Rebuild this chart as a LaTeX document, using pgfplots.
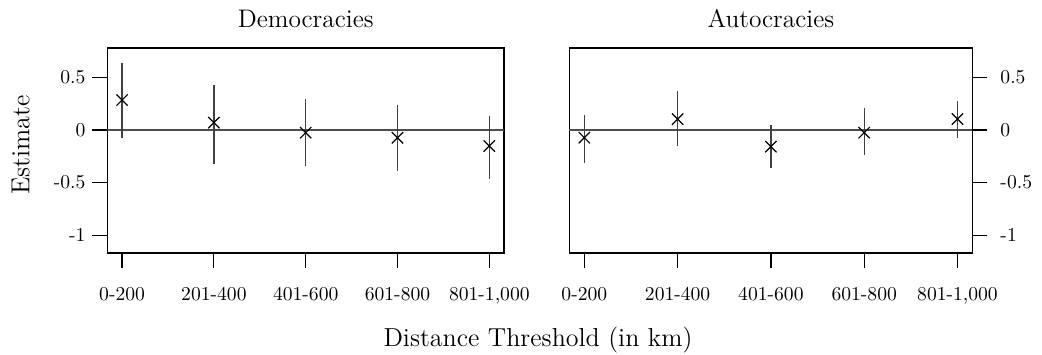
\documentclass[border=0pt]{standalone}
\usepackage{pgfplots}
\pgfplotsset{compat=1.18}
\usepackage{pgfplotstable}

\pgfplotstableread{
x y ep em
0 0.285 0.348 0.358
1 0.070 0.357 0.390
2 -0.025 0.315 0.320
3 -0.073 0.310 0.317
4 -0.152 0.285 0.316
}\demo
\pgfplotstableread{
x y ep em
0 -0.073 0.215 0.237
1 0.104 0.266 0.256
2 -0.158 0.205 0.206
3 -0.025 0.231 0.212
4 0.104 0.171 0.177
}\auto

\pgfplotsset{
  panel/.style={
    scale only axis,
    anchor=south west,
    height=102.5pt,
    xmin=-0.16, xmax=4.16,
    ymin=-1.168, ymax=0.779,
    xtick={0,1,2,3,4},
    xticklabels={0-200,201-400,401-600,601-800,{801-1,000}},
    ytick={-1,-0.5,0,0.5},
    yticklabels={-1,-0.5,0,0.5},
    tick align=outside,
    major tick length=7.5pt,
    xtick pos=bottom,
    tick style={black, line width=0.6pt},
    axis line style={line width=0.6pt},
    ticklabel style={font=\fontsize{9.8}{11}\selectfont},
    xticklabel style={anchor=base, yshift=-16.2pt},
    title style={at={(0.5,1)}, anchor=base, yshift=4.3pt, font=\fontsize{12.7}{15}\selectfont},
    clip=false,
  },
  ci/.style={black!80, mark=x, mark size=4pt, mark options={black, line width=0.6pt}, only marks,
    error bars/.cd, y dir=both, y explicit, error mark=none,
    error bar style={black!75, line width=0.7pt}},
}

\begin{document}
\begin{tikzpicture}
\useasboundingbox (0,0) rectangle (521pt,177pt);
\begin{axis}[panel, at={(53.7pt,50.5pt)}, width=198.3pt,
  ytick pos=left, title={Democracies}]
  \addplot[black!70, line width=0.65pt] coordinates {(-0.16,0) (4.16,0)};
  \addplot[ci] table[x=x, y=y, y error plus=ep, y error minus=em] {\demo};
\end{axis}
\begin{axis}[panel, at={(284.7pt,50.5pt)}, width=201.5pt,
  ytick pos=right, yticklabel pos=right,
  yticklabel style={anchor=west, xshift=3pt},
  title={Autocracies}]
  \addplot[black!70, line width=0.65pt] coordinates {(-0.16,0) (4.16,0)};
  \addplot[ci] table[x=x, y=y, y error plus=ep, y error minus=em] {\auto};
\end{axis}
\node[anchor=base, font=\fontsize{13}{15}\selectfont] at (269pt,3.7pt) {Distance Threshold (in km)};
\node[anchor=base, rotate=90, font=\fontsize{13}{15}\selectfont] at (14.7pt,104.5pt) {Estimate};
\end{tikzpicture}
\end{document}
